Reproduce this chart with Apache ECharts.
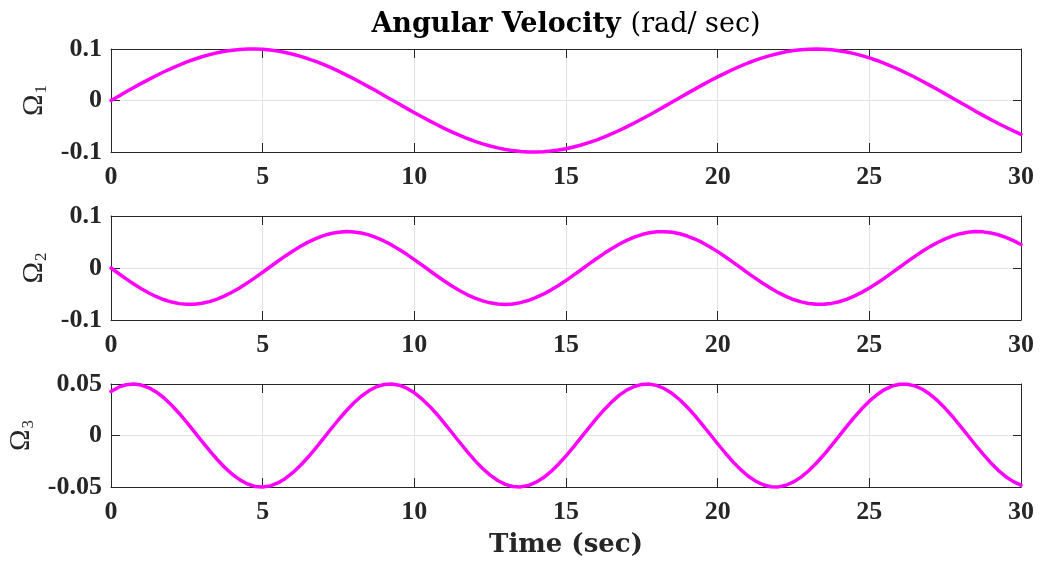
<!DOCTYPE html>
<html>
<head>
<meta charset="utf-8">
<script src="https://cdn.jsdelivr.net/npm/echarts@6/dist/echarts.min.js"></script>
<style>
html,body{margin:0;padding:0;background:#fff;}
#c{width:1041px;height:567px;}
</style>
</head>
<body>
<div id="c"></div>
<script>
// Time samples (sec)
var time = [0,0.25,0.5,0.75,1,1.25,1.5,1.75,2,2.25,2.5,2.75,3,3.25,3.5,3.75,4,4.25,4.5,4.75,5,5.25,5.5,5.75,6,6.25,6.5,6.75,7,7.25,7.5,7.75,8,8.25,8.5,8.75,9,9.25,9.5,9.75,10,10.25,10.5,10.75,11,11.25,11.5,11.75,12,12.25,12.5,12.75,13,13.25,13.5,13.75,14,14.25,14.5,14.75,15,15.25,15.5,15.75,16,16.25,16.5,16.75,17,17.25,17.5,17.75,18,18.25,18.5,18.75,19,19.25,19.5,19.75,20,20.25,20.5,20.75,21,21.25,21.5,21.75,22,22.25,22.5,22.75,23,23.25,23.5,23.75,24,24.25,24.5,24.75,25,25.25,25.5,25.75,26,26.25,26.5,26.75,27,27.25,27.5,27.75,28,28.25,28.5,28.75,29,29.25,29.5,29.75,30];

// Omega_1 (rad/sec)
var omega1 = [0,0.0084,0.0168,0.0251,0.0332,0.0410,0.0486,0.0558,0.0625,0.0689,0.0748,0.0801,0.0849,0.0891,0.0926,0.0955,0.0976,0.0991,0.0999,0.0999,0.0993,0.0979,0.0959,0.0931,0.0897,0.0857,0.0810,0.0758,0.0701,0.0637,0.0570,0.0499,0.0424,0.0346,0.0265,0.0183,0.0099,0.0015,-0.0069,-0.0153,-0.0236,-0.0317,-0.0396,-0.0472,-0.0545,-0.0614,-0.0678,-0.0738,-0.0792,-0.0841,-0.0884,-0.0920,-0.0950,-0.0973,-0.0989,-0.0998,-0.1000,-0.0995,-0.0982,-0.0963,-0.0937,-0.0904,-0.0864,-0.0819,-0.0768,-0.0711,-0.0649,-0.0582,-0.0512,-0.0437,-0.0360,-0.0280,-0.0198,-0.0114,-0.0030,0.0054,0.0138,0.0221,0.0303,0.0382,0.0459,0.0532,0.0602,0.0667,0.0728,0.0783,0.0832,0.0877,0.0914,0.0945,0.0969,0.0986,0.0997,0.1000,0.0996,0.0985,0.0967,0.0942,0.0910,0.0872,0.0828,0.0777,0.0721,0.0660,0.0595,0.0525,0.0451,0.0374,0.0294,0.0213,0.0129,0.0045,-0.0039,-0.0123,-0.0207,-0.0289,-0.0368,-0.0446,-0.0519,-0.0590,-0.0656];

// Omega_2 (rad/sec)
var omega2 = [0,-0.0105,-0.0209,-0.0307,-0.0398,-0.0480,-0.0552,-0.0611,-0.0655,-0.0685,-0.0699,-0.0697,-0.0679,-0.0646,-0.0598,-0.0536,-0.0462,-0.0378,-0.0285,-0.0185,-0.0081,0.0024,0.0129,0.0232,0.0328,0.0418,0.0498,0.0566,0.0622,0.0663,0.0689,0.0700,0.0694,0.0673,0.0636,0.0585,0.0520,0.0444,0.0357,0.0263,0.0162,0.0057,-0.0048,-0.0153,-0.0254,-0.0350,-0.0437,-0.0515,-0.0580,-0.0633,-0.0670,-0.0693,-0.0700,-0.0691,-0.0666,-0.0626,-0.0571,-0.0504,-0.0425,-0.0336,-0.0240,-0.0138,-0.0033,0.0073,0.0177,0.0277,0.0370,0.0456,0.0531,0.0593,0.0643,0.0677,0.0696,0.0699,0.0686,0.0658,0.0615,0.0557,0.0487,0.0405,0.0315,0.0217,0.0114,0.0009,-0.0097,-0.0200,-0.0299,-0.0391,-0.0474,-0.0546,-0.0606,-0.0652,-0.0683,-0.0698,-0.0698,-0.0681,-0.0649,-0.0602,-0.0542,-0.0469,-0.0385,-0.0293,-0.0194,-0.0090,0.0015,0.0121,0.0223,0.0321,0.0411,0.0491,0.0561,0.0617,0.0660,0.0688,0.0700,0.0695,0.0675,0.0640,0.0590,0.0526,0.0451];

// Omega_3 (rad/sec)
var omega3 = [0.0428,0.0469,0.0493,0.0500,0.0490,0.0463,0.0421,0.0364,0.0294,0.0214,0.0127,0.0036,-0.0057,-0.0147,-0.0233,-0.0311,-0.0377,-0.0431,-0.0471,-0.0494,-0.0500,-0.0489,-0.0461,-0.0417,-0.0359,-0.0289,-0.0209,-0.0122,-0.0030,0.0063,0.0153,0.0238,0.0315,0.0381,0.0434,0.0473,0.0495,0.0500,0.0488,0.0459,0.0414,0.0355,0.0285,0.0204,0.0116,0.0024,-0.0068,-0.0159,-0.0244,-0.0320,-0.0385,-0.0437,-0.0475,-0.0495,-0.0499,-0.0486,-0.0456,-0.0411,-0.0351,-0.0279,-0.0198,-0.0110,-0.0018,0.0074,0.0164,0.0248,0.0324,0.0389,0.0440,0.0476,0.0496,0.0499,0.0485,0.0454,0.0407,0.0347,0.0274,0.0193,0.0104,0.0012,-0.0080,-0.0170,-0.0254,-0.0329,-0.0393,-0.0443,-0.0478,-0.0497,-0.0499,-0.0483,-0.0451,-0.0404,-0.0342,-0.0269,-0.0187,-0.0098,-0.0006,0.0086,0.0176,0.0259,0.0333,0.0396,0.0446,0.0480,0.0498,0.0498,0.0482,0.0449,0.0400,0.0338,0.0264,0.0182,0.0092,0.0000,-0.0092,-0.0181,-0.0264,-0.0338,-0.0400,-0.0448,-0.0482];

// Axis settings
var xTicks = {min: 0, max: 30, interval: 5};
var yRanges = [
  {min: -0.1, max: 0.1, interval: 0.1},
  {min: -0.1, max: 0.1, interval: 0.1},
  {min: -0.05, max: 0.05, interval: 0.05}
];
var yNames = ['1', '2', '3'];
var titleMain = 'Angular Velocity';
var titleUnit = '(rad/ sec)';
var xName = 'Time (sec)';

var series = [omega1, omega2, omega3];

var AX = '#262626';
var GRIDC = '#e3e3e3';
var tickFont = {fontFamily: 'Liberation Serif', fontWeight: 'bold', fontSize: 26, color: AX};

var grids = [
  {left: 111, right: 20, top: 49, height: 103},
  {left: 111, right: 20, top: 216, height: 104},
  {left: 111, right: 20, top: 384, height: 103}
];

var xAxes = [], yAxes = [], ser = [];
grids.forEach(function(g, i) {
  g.outerBoundsMode = 'none';
  g.containLabel = false;
  xAxes.push({
    type: 'value', gridIndex: i, position: 'bottom',
    min: xTicks.min, max: xTicks.max, interval: xTicks.interval,
    axisLine: {show: true, onZero: false, lineStyle: {color: AX, width: 1}},
    axisTick: {show: true, inside: true, length: 9, lineStyle: {color: AX, width: 1}},
    axisLabel: Object.assign({show: true, margin: 12}, tickFont),
    splitLine: {show: true, lineStyle: {color: GRIDC, width: 1}},
    name: i === 2 ? xName : '',
    nameLocation: 'middle', nameGap: 45,
    nameTextStyle: {fontFamily: 'DejaVu Serif', fontWeight: 'bold', fontSize: 26, color: AX}
  });
  yAxes.push({
    type: 'value', gridIndex: i, position: 'left',
    min: yRanges[i].min, max: yRanges[i].max, interval: yRanges[i].interval,
    axisLine: {show: true, onZero: false, lineStyle: {color: AX, width: 1}},
    axisTick: {show: true, inside: true, length: 9, lineStyle: {color: AX, width: 1}},
    axisLabel: Object.assign({show: true, margin: 9}, tickFont),
    splitLine: {show: true, lineStyle: {color: GRIDC, width: 1}},
    name: '{o|Ω}{s|' + yNames[i] + '}',
    nameLocation: 'middle', nameRotate: 90, nameGap: 58,
    nameTextStyle: {
      rich: {
        o: {fontFamily: 'Liberation Serif', fontSize: 29, lineHeight: 32, color: AX},
        s: {fontFamily: 'Liberation Serif', fontSize: 17, lineHeight: 17, color: AX, verticalAlign: 'bottom', padding: [0, 0, 0, 1]}
      }
    }
  });
  ser.push({
    type: 'line', xAxisIndex: i, yAxisIndex: i,
    data: time.map(function(t, k) { return [t, series[i][k]]; }),
    showSymbol: false, smooth: false, clip: false,
    lineStyle: {color: '#ff00ff', width: 3.5, join: 'round', cap: 'round'},
    itemStyle: {color: '#ff00ff'},
    silent: true, animation: false
  });
});
// top and right frame axes with inside ticks
grids.forEach(function(g, i) {
  xAxes.push({
    type: 'value', gridIndex: i, position: 'top',
    min: xTicks.min, max: xTicks.max, interval: xTicks.interval,
    axisLine: {show: true, onZero: false, lineStyle: {color: AX, width: 1}},
    axisTick: {show: true, inside: true, length: 9, lineStyle: {color: AX, width: 1}},
    axisLabel: {show: false}, splitLine: {show: false}
  });
  yAxes.push({
    type: 'value', gridIndex: i, position: 'right',
    min: yRanges[i].min, max: yRanges[i].max, interval: yRanges[i].interval,
    axisLine: {show: true, onZero: false, lineStyle: {color: AX, width: 1}},
    axisTick: {show: true, inside: true, length: 8, lineStyle: {color: AX, width: 1}},
    axisLabel: {show: false}, splitLine: {show: false}
  });
});

var chart = echarts.init(document.getElementById('c'), null, {renderer: 'canvas'});
chart.setOption({
  backgroundColor: '#ffffff',
  animation: false,
  title: {
    text: '{b|' + titleMain + '}  {n|' + titleUnit + '}',
    left: 566, top: 11, textAlign: 'center', padding: 0,
    textStyle: {
      rich: {
        b: {fontFamily: 'DejaVu Serif', fontWeight: 'bold', fontSize: 27, color: '#000'},
        n: {fontFamily: 'DejaVu Serif', fontWeight: 'normal', fontSize: 27, color: '#000'}
      }
    }
  },
  grid: grids,
  xAxis: xAxes,
  yAxis: yAxes,
  series: ser
});
</script>
</body>
</html>
